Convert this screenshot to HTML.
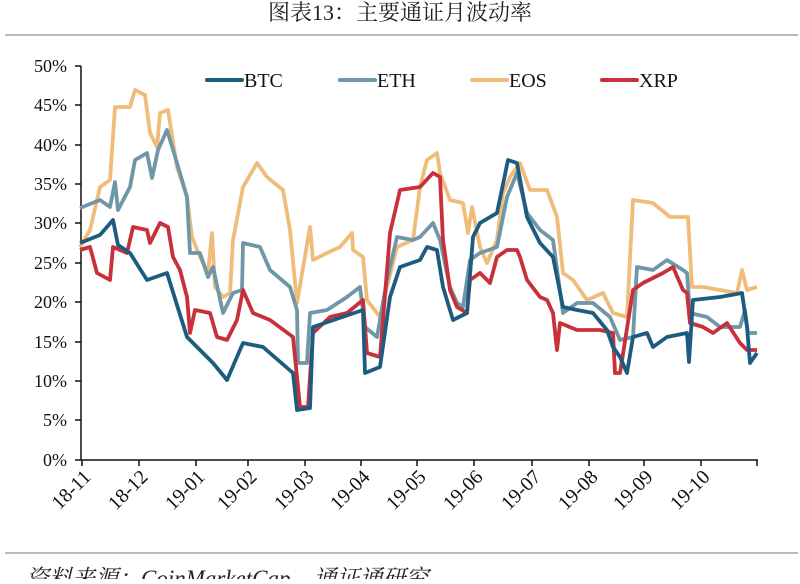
<!DOCTYPE html>
<html><head><meta charset="utf-8"><style>
body{margin:0;background:#fff;width:800px;height:579px;overflow:hidden}
</style></head><body>
<svg width="800" height="579" xmlns="http://www.w3.org/2000/svg" font-family="Liberation Serif, Noto Serif CJK SC, serif">
<text x="400" y="20" font-size="22" text-anchor="middle" fill="#222" font-family="Liberation Serif, Noto Serif CJK SC, serif">图表13：主要通证月波动率</text>
<line x1="5" y1="35" x2="798" y2="35" stroke="#bbb" stroke-width="2"/>
<line x1="5" y1="553" x2="798" y2="553" stroke="#bbb" stroke-width="2"/>
<text x="26" y="586" font-size="23" font-style="italic" fill="#222" font-family="Liberation Serif, Noto Serif CJK SC, serif">资料来源：CoinMarketCap，通证通研究</text>
<g font-size="18" fill="#111" text-anchor="end">
<text x="67" y="72">50%</text><text x="67" y="111">45%</text><text x="67" y="151">40%</text><text x="67" y="190">35%</text><text x="67" y="229">30%</text><text x="67" y="269">25%</text><text x="67" y="308">20%</text><text x="67" y="348">15%</text><text x="67" y="387">10%</text><text x="67" y="426">5%</text><text x="67" y="466">0%</text>
</g>
<g stroke="#111" stroke-width="1.5">
<line x1="81" y1="66" x2="81" y2="460"/>
<line x1="81" y1="460" x2="758" y2="460"/>
<line x1="75" y1="66" x2="81" y2="66"/><line x1="75" y1="105" x2="81" y2="105"/><line x1="75" y1="145" x2="81" y2="145"/><line x1="75" y1="184" x2="81" y2="184"/><line x1="75" y1="223" x2="81" y2="223"/><line x1="75" y1="263" x2="81" y2="263"/><line x1="75" y1="302" x2="81" y2="302"/><line x1="75" y1="342" x2="81" y2="342"/><line x1="75" y1="381" x2="81" y2="381"/><line x1="75" y1="420" x2="81" y2="420"/><line x1="75" y1="460" x2="81" y2="460"/>
<line x1="82" y1="460" x2="82" y2="466"/><line x1="139" y1="460" x2="139" y2="466"/><line x1="196" y1="460" x2="196" y2="466"/><line x1="248" y1="460" x2="248" y2="466"/><line x1="305" y1="460" x2="305" y2="466"/><line x1="361" y1="460" x2="361" y2="466"/><line x1="417" y1="460" x2="417" y2="466"/><line x1="474" y1="460" x2="474" y2="466"/><line x1="532" y1="460" x2="532" y2="466"/><line x1="589" y1="460" x2="589" y2="466"/><line x1="644" y1="460" x2="644" y2="466"/><line x1="701" y1="460" x2="701" y2="466"/><line x1="757" y1="460" x2="757" y2="466"/>
</g>
<g font-size="20" fill="#111" text-anchor="end">
<text transform="translate(92,478) rotate(-45)">18-11</text>
<text transform="translate(149,478) rotate(-45)">18-12</text>
<text transform="translate(206,478) rotate(-45)">19-01</text>
<text transform="translate(258,478) rotate(-45)">19-02</text>
<text transform="translate(315,478) rotate(-45)">19-03</text>
<text transform="translate(371,478) rotate(-45)">19-04</text>
<text transform="translate(427,478) rotate(-45)">19-05</text>
<text transform="translate(484,478) rotate(-45)">19-06</text>
<text transform="translate(542,478) rotate(-45)">19-07</text>
<text transform="translate(599,478) rotate(-45)">19-08</text>
<text transform="translate(654,478) rotate(-45)">19-09</text>
<text transform="translate(711,478) rotate(-45)">19-10</text>
</g>
<g stroke-width="4" stroke-linecap="round">
<line x1="207" y1="80" x2="242" y2="80" stroke="#1d5c80"/>
<line x1="340" y1="80" x2="375" y2="80" stroke="#6f97a8"/>
<line x1="472" y1="80" x2="507" y2="80" stroke="#f0bc7a"/>
<line x1="602" y1="80" x2="637" y2="80" stroke="#c8313a"/>
</g>
<g font-size="20" fill="#111">
<text x="244" y="87">BTC</text><text x="377" y="87">ETH</text><text x="509" y="87">EOS</text><text x="639" y="87">XRP</text>
</g>
<g fill="none" stroke-width="3.8" stroke-linejoin="round">
<polyline stroke="#f0bc7a" points="80,247 90,230 100,187 110,180 115,107 130,107 135,90 145,95 150,133 157,147 160,113 168,110 177,167 187,197 192,237 200,257 208,273 212,233 215,287 223,297 230,293 233,240 243,187 257,163 267,177 283,190 290,230 297,303 310,227 313,260 327,253 340,247 352,233 353,250 363,257 367,300 380,317 387,287 397,247 413,240 420,187 427,160 437,153 440,173 450,200 463,203 468,233 472,207 480,247 487,263 497,240 503,193 510,177 520,163 530,190 547,190 557,217 563,273 573,280 587,300 603,293 613,313 627,317 633,200 653,203 670,217 688,217 692,287 703,287 720,290 737,293 742,270 747,290 757,287"/>
<polyline stroke="#6f97a8" points="80,208 100,200 110,207 115,182 118,210 130,187 135,160 147,153 152,178 158,150 167,130 177,163 187,197 190,253 200,253 208,277 213,267 223,313 233,293 242,290 243,243 260,247 270,270 290,287 297,310 298,363 307,363 310,313 327,310 347,297 360,287 365,327 377,337 387,280 397,237 413,240 420,237 433,223 440,240 450,287 457,303 463,307 470,260 480,253 497,247 507,197 517,173 527,213 540,230 553,240 563,313 577,303 593,303 610,317 620,340 633,337 637,267 653,270 667,260 683,270 687,273 690,313 707,317 720,327 740,327 745,310 748,333 757,333"/>
<polyline stroke="#c8313a" points="80,250 90,247 97,273 110,280 113,247 127,253 133,227 147,230 150,243 160,223 168,227 173,257 180,270 187,297 190,333 195,310 210,313 217,337 227,340 237,320 243,290 253,313 270,320 293,337 300,407 308,407 313,333 330,317 347,313 363,300 367,353 380,357 390,233 400,190 420,187 433,173 440,177 443,240 450,290 457,307 467,313 470,280 480,273 490,283 497,257 507,250 517,250 520,257 527,280 540,297 547,300 553,313 557,350 560,323 577,330 600,330 613,333 615,373 620,373 633,290 643,283 663,273 673,267 683,290 687,293 690,323 703,327 713,333 727,323 740,343 747,350 757,350"/>
<polyline stroke="#1d5c80" points="80,243 100,235 113,220 118,245 130,253 147,280 167,273 187,337 213,363 227,380 243,343 263,347 293,373 297,410 310,408 313,327 363,310 365,373 380,367 390,297 400,267 420,260 427,247 437,250 443,287 453,320 467,313 473,237 480,223 497,213 508,160 517,163 527,217 540,243 553,257 563,307 577,310 593,313 607,330 613,347 620,357 627,373 633,337 647,333 653,347 667,337 687,333 689,362 693,300 720,297 742,293 747,327 750,363 757,353"/>
</g>
</svg>
</body></html>
